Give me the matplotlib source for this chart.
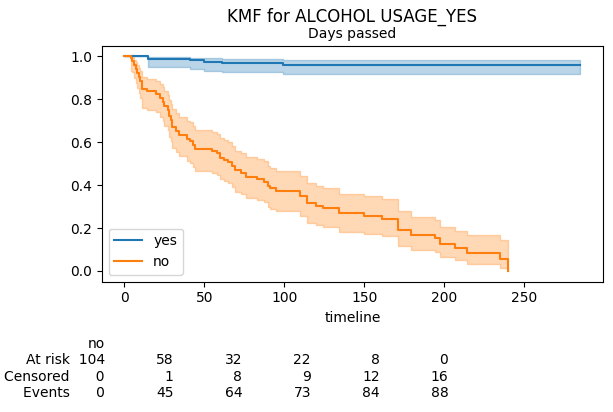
"""Kaplan-Meier curves for ALCOHOL USAGE with an at-risk table."""

import matplotlib

matplotlib.use("Agg")
import matplotlib.pyplot as plt
import numpy as np

# group "yes": observation day, deaths that day, censored that day
yes_times = [15, 20, 41, 45, 50, 61, 70, 90, 99, 120, 150, 180, 210, 240, 270, 285]
yes_events = [2, 0, 1, 0, 1, 1, 0, 0, 1, 0, 0, 0, 0, 0, 0, 0]
yes_censored = [0, 2, 0, 2, 0, 0, 3, 3, 0, 15, 20, 25, 25, 25, 14, 20]

# group "no"
no_times = [4, 5, 6, 7, 8, 9, 10, 11, 14, 20, 22, 24, 25, 27, 28, 29, 30, 32, 34,
            39, 41, 43, 44, 47, 55, 58, 60, 62, 63, 65, 67, 69, 71, 73, 76, 79,
            83, 85, 87, 90, 91, 93, 95, 97, 98, 110, 114, 120, 124, 134, 140,
            150, 161, 165, 171, 179, 185, 194, 197, 199, 203, 207, 210, 214,
            225, 235, 238, 240]
no_events = [1, 1, 2, 2, 2, 2, 2, 4, 1, 1, 2, 2, 2, 2, 3, 2, 3, 2, 2,
             2, 1, 2, 2, 0, 1, 1, 2, 1, 0, 1, 2, 2, 0, 1, 2, 0,
             1, 0, 1, 2, 1, 0, 1, 0, 0, 2, 3, 1, 1, 2, 0,
             1, 1, 0, 4, 2, 0, 1, 2, 0, 0, 1, 0, 1,
             0, 1, 0, 1]
no_censored = [0, 0, 0, 0, 0, 0, 0, 0, 0, 0, 0, 0, 0, 0, 0, 0, 0, 0, 0,
               0, 0, 0, 0, 1, 0, 0, 0, 0, 1, 0, 0, 0, 1, 0, 0, 1,
               0, 1, 0, 0, 0, 1, 0, 1, 1, 0, 0, 0, 0, 0, 1,
               0, 0, 1, 0, 0, 1, 0, 0, 1, 1, 0, 1, 0,
               1, 0, 1, 0]

# at-risk table (group "no")
table_ticks = [0, 50, 100, 150, 200, 250]
table_rows = ["At risk", "Censored", "Events"]
at_risk = [104, 58, 32, 22, 8, 0]
censored_counts = [0, 1, 8, 9, 12, 16]
event_counts = [0, 45, 64, 73, 84, 88]


def kaplan_meier(times, events, censored):
    """Survival curve with log(-log) Greenwood confidence band."""
    t = np.asarray(times, dtype=float)
    d = np.asarray(events, dtype=float)
    c = np.asarray(censored, dtype=float)
    removed = d + c
    n = removed.sum() - np.concatenate([[0.0], np.cumsum(removed)[:-1]])
    surv = np.cumprod(1.0 - d / n)
    with np.errstate(divide="ignore", invalid="ignore"):
        var = np.cumsum(d / (n * (n - d)))
        sd = np.sqrt(var) / np.abs(np.log(surv))
        lower = surv ** np.exp(1.96 * sd)
        upper = surv ** np.exp(-1.96 * sd)
    lower = np.where(var == 0, surv, np.nan_to_num(lower, nan=0.0))
    upper = np.where(var == 0, surv, np.nan_to_num(upper, nan=0.0))
    t = np.concatenate([[0.0], t])
    return (t,
            np.concatenate([[1.0], surv]),
            np.concatenate([[1.0], lower]),
            np.concatenate([[1.0], upper]))


fig = plt.figure(figsize=(6.13, 4.12), dpi=100)
ax = fig.add_axes([0.1659, 0.3163, 0.8178, 0.5728])

groups = [
    ("yes", yes_times, yes_events, yes_censored, "#1f77b4"),
    ("no", no_times, no_events, no_censored, "#ff7f0e"),
]
for label, times, events, censored, color in groups:
    t, s, lo, hi = kaplan_meier(times, events, censored)
    ax.plot(t, s, drawstyle="steps-post", color=color, linewidth=1.5, label=label)
    ax.fill_between(t, lo, hi, step="post", alpha=0.3, color=color, linewidth=1.0)

ax.set_xlabel("timeline", fontsize=10)
ax.tick_params(labelsize=10)
ax.legend(loc="lower left", fontsize=10)

# at-risk table drawn as tick labels of a twin axis
ax2 = ax.twiny()
ax2.set_xlim(-2.4, 362.7)
ax2.xaxis.set_ticks_position("bottom")
for spine in ax2.spines.values():
    spine.set_visible(False)
ax2.set_xticks(table_ticks)

width = len(str(max(at_risk + censored_counts + event_counts)))
ticklabels = []
for i in range(len(table_ticks)):
    values = [at_risk[i], censored_counts[i], event_counts[i]]
    if i == 0:
        lines = ["no"]
        for name, v in zip(table_rows, values):
            pad = " " * (width - len(str(v)) + 2)
            lines.append(f"{name}{pad}{v:>{width}d}")
    else:
        lines = [""] + [str(v) for v in values]
    ticklabels.append("\n".join(lines))
ax2.set_xticklabels(ticklabels, ha="right", fontsize=10)
ax2.tick_params(axis="x", length=0, pad=40)

fig.text(0.5748, 0.9473, "KMF for ALCOHOL USAGE_YES", ha="center",
         va="baseline", fontsize=12)
fig.text(0.5748, 0.9078, "Days passed", ha="center", va="baseline", fontsize=10)

fig.savefig("out.png", dpi=100, facecolor="white")
